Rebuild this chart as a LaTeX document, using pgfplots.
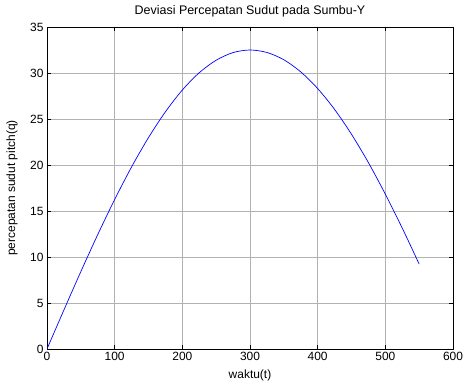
\documentclass[border=0pt]{standalone}
\usepackage{pgfplots}
\pgfplotsset{compat=1.18}
\usepackage{fontspec}
\setmainfont{Liberation Sans}
\begin{document}
\begin{tikzpicture}
\begin{axis}[
  scale only axis,
  width=406bp, height=322bp,
  at={(0,0)}, anchor=south west,
  xmin=0, xmax=600, ymin=0, ymax=35,
  xtick={0,100,...,600}, ytick={0,5,...,35},
  tick align=inside,
  major tick length=4bp,
  tick style={black, line width=0.5pt},
  axis line style={black, line width=0.9pt},
  grid=major,
  major grid style={gray!60, line width=0.5pt},
  tick label style={font=\fontsize{12}{14}\selectfont},
  /pgf/number format/assume math mode=true,
  title={Deviasi Percepatan Sudut pada Sumbu-Y},
  title style={font=\fontsize{12.5}{14}\selectfont, at={(0.5,1)}, anchor=south, yshift=0bp},
  xlabel={waktu(t)},
  xlabel style={font=\fontsize{12}{14}\selectfont, at={(axis description cs:0.5,-0.081)}, anchor=center},
  ylabel={percepatan sudut pitch(q)},
  ylabel style={font=\fontsize{12}{14}\selectfont, at={(axis description cs:-0.086,0.5)}, anchor=center, rotate=0},
]
\addplot[blue, line width=0.7pt, smooth] coordinates {
(0,0) (25,4.24) (50,8.41) (75,12.44) (100,16.25) (125,19.79) (150,22.98)
(175,25.78) (200,28.15) (225,30.03) (250,31.39) (275,32.22) (300,32.5)
(325,32.23) (350,31.44) (375,30.12) (400,28.31) (425,26.04) (450,23.34)
(475,20.26) (500,16.83) (525,13.14) (550,9.23)
};
\end{axis}
\pgfresetboundingbox
\path[use as bounding box] (-47bp,-36bp) rectangle (416bp,349bp);
\end{tikzpicture}
\end{document}
